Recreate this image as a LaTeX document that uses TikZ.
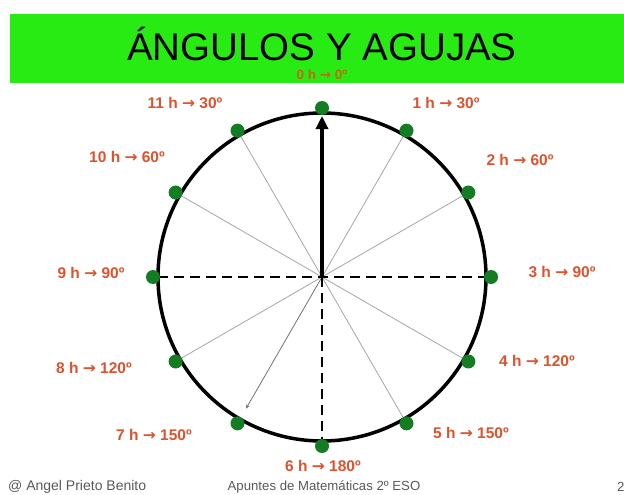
\documentclass[tikz,border=0pt]{standalone}
\usepackage{fontspec}
\setmainfont{Liberation Sans}
\newfontfamily\arrowfont{DejaVu Sans}
\newcommand\harr{{\arrowfont\bfseries →}}
\usetikzlibrary{arrows.meta}
\definecolor{banner}{RGB}{40,235,20}
\definecolor{lab}{RGB}{222,82,45}
\definecolor{labzero}{RGB}{190,105,20}
\definecolor{dotc}{RGB}{20,125,35}
\definecolor{foot}{RGB}{90,90,90}
\begin{document}
\begin{tikzpicture}[x=1pt,y=-1pt,
  hourlbl/.style={text=lab,font=\fontsize{15.5}{18}\selectfont\bfseries,inner sep=0pt},
  hdot/.style={circle,fill=dotc,minimum size=14pt,inner sep=0pt},
  ray/.style={draw=black!35,line width=0.8pt},
  axisline/.style={draw=black,line width=1.8pt,dash pattern=on 10pt off 6pt},
  footer/.style={text=foot,font=\fontsize{13.2}{15}\selectfont,inner sep=0pt}]
\useasboundingbox (0,0) rectangle (624,495);
\fill[white] (0,0) rectangle (624,495);
\fill[banner] (10,14) rectangle (624,83);
\node[font=\fontsize{38.5}{40}\selectfont,inner sep=0pt,anchor=base] (title) at (322,61) {ÁNGULOS Y AGUJAS};
\coordinate (O) at (322,277);
\foreach \h in {1,...,12} {
  \coordinate (p\h) at ({322+164*sin(30*\h)},{277-164*cos(30*\h)});
}
\coordinate (m7) at ({322+152*sin(210)},{277-152*cos(210)});
\coordinate (tip) at (322,116);
\foreach \h in {1,2,4,5,8,10,11} { \draw[ray] (O) -- (p\h); }
\draw[ray,draw=black!55,-{Stealth[length=4pt,width=3.5pt]}] (O) -- (m7);
\draw[axisline] (p9) -- (p3);
\draw[axisline] (O) -- (p6);
\draw[line width=3.5pt] (O) circle[radius=164pt];
\draw[line width=3.5pt,-{Triangle[length=13pt,width=12pt]}] (O) -- (tip);
\foreach \h in {1,...,12} {
  \node[hdot] (d\h) at ({322+169*sin(30*\h)},{277-169*cos(30*\h)}) {};
}
\node[text=labzero,font=\fontsize{13.5}{15}\selectfont\bfseries,inner sep=0pt] (l0) at (322,75) {0 h \harr{} 0º};
\node[hourlbl] (l11) at (185,103) {11 h \harr{} 30º};
\node[hourlbl] (l1) at (446,103) {1 h \harr{} 30º};
\node[hourlbl] (l10) at (127,157) {10 h \harr{} 60º};
\node[hourlbl] (l2) at (520,160) {2 h \harr{} 60º};
\node[hourlbl] (l9) at (91,273) {9 h \harr{} 90º};
\node[hourlbl] (l3) at (562,272) {3 h \harr{} 90º};
\node[hourlbl] (l8) at (94,368) {8 h \harr{} 120º};
\node[hourlbl] (l4) at (537,361) {4 h \harr{} 120º};
\node[hourlbl] (l7) at (154,435) {7 h \harr{} 150º};
\node[hourlbl] (l5) at (471,433) {5 h \harr{} 150º};
\node[hourlbl] (l6) at (323,466) {6 h \harr{} 180º};
\node[footer,anchor=west,font=\fontsize{14}{15}\selectfont] (f1) at (8,487) {@ Angel Prieto Benito};
\node[footer] (f2) at (324,487) {Apuntes de Matemáticas 2º ESO};
\node[footer,anchor=west] (f3) at (617,487) {2};
\end{tikzpicture}
\end{document}
